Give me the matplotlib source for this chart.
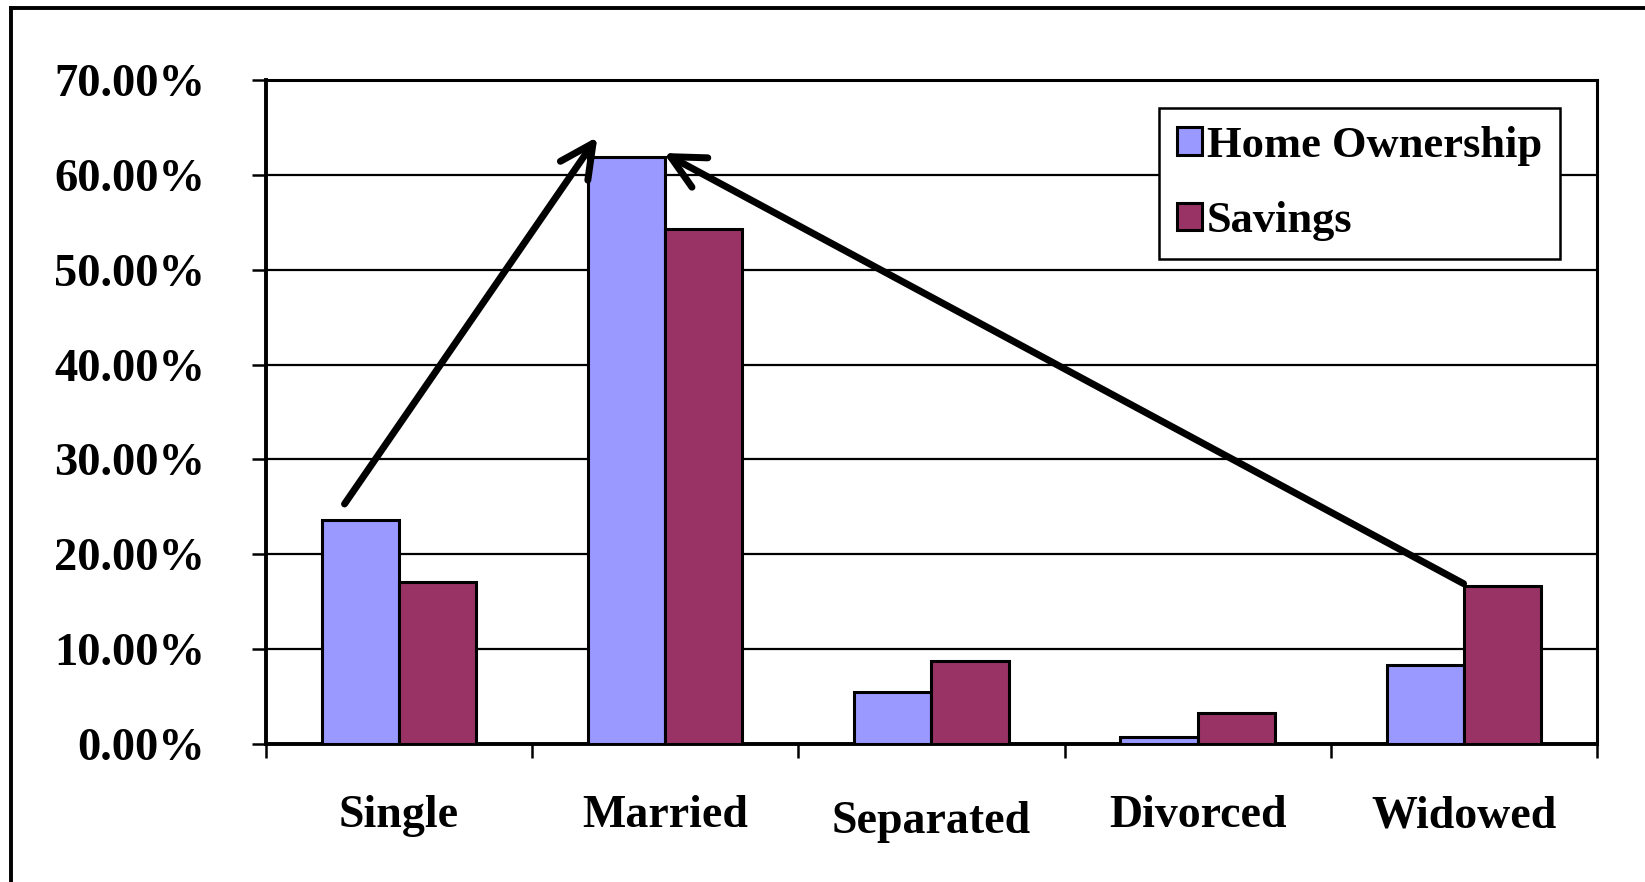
import numpy as np
import matplotlib
matplotlib.use("Agg")
import matplotlib.pyplot as plt
from matplotlib.lines import Line2D
from matplotlib.ticker import FuncFormatter, FixedLocator

# data
categories = ["Single", "Married", "Separated", "Divorced", "Widowed"]
home_ownership = [0.236, 0.619, 0.055, 0.007, 0.083]
savings = [0.171, 0.543, 0.087, 0.033, 0.167]
series_names = ["Home Ownership", "Savings"]
y_ticks = [0.0, 0.1, 0.2, 0.3, 0.4, 0.5, 0.6, 0.7]

HO_COLOR = "#9999FF"
SAV_COLOR = "#993366"

plt.rcParams["font.family"] = ["Liberation Serif", "DejaVu Serif"]
plt.rcParams["font.weight"] = "bold"

fig = plt.figure(figsize=(16.45, 8.82), dpi=100)
ax = fig.add_axes([0.1617, 0.1565, 0.8091, 0.7528])

x = np.arange(len(categories))
width = 0.29
ax.bar(x - width / 2, home_ownership, width, color=HO_COLOR,
       edgecolor="black", linewidth=2.2, label=series_names[0], zorder=3)
ax.bar(x + width / 2, savings, width, color=SAV_COLOR,
       edgecolor="black", linewidth=2.2, label=series_names[1], zorder=3)

ax.set_xlim(-0.5, len(categories) - 0.5)
ax.set_ylim(0, 0.7)
ax.set_yticks(y_ticks)
ax.yaxis.set_major_formatter(FuncFormatter(lambda v, _: f"{v * 100:.2f}%"))
ax.yaxis.grid(True, color="black", linewidth=1.6, zorder=0)
ax.set_axisbelow(True)

ax.set_xticks(x)
ax.set_xticklabels(categories)
ax.xaxis.set_minor_locator(FixedLocator(np.arange(-0.5, len(categories), 1.0)))
ax.tick_params(axis="x", which="major", length=0, pad=37, labelsize=33)
ax.tick_params(axis="x", which="minor", length=10, width=1.8, direction="out")
ax.tick_params(axis="y", which="major", length=10, width=1.8, direction="out",
               pad=34, labelsize=33.5)
for lbl in ax.get_xticklabels() + ax.get_yticklabels():
    lbl.set_fontweight("bold")
# "Separated" sits a little lower in the original
ax.get_xticklabels()[2].set_y(-0.008)

for side in ["left", "bottom"]:
    ax.spines[side].set_linewidth(2.8)
for side in ["top", "right"]:
    ax.spines[side].set_linewidth(2.2)

leg = ax.legend(loc="upper right", bbox_to_anchor=(0.972, 0.958),
                borderaxespad=0, fancybox=False, framealpha=1,
                edgecolor="black", handlelength=0.58,
                handleheight=0.58, handletextpad=0.1, labelspacing=0.8,
                borderpad=0.4, prop={"weight": "bold", "size": 32})
leg.get_frame().set_linewidth(1.8)
leg.set_zorder(5)

# arrows: Single -> Married peak, Widowed -> Married peak
arrow_kw = dict(arrowstyle="->,head_length=2.4,head_width=1.2", color="black",
                lw=5, shrinkA=0, shrinkB=0, mutation_scale=10,
                capstyle="round", joinstyle="round")
ax.annotate("", xy=(x[1] - width + 0.035, home_ownership[1] + 0.021),
            xytext=(x[0] - width / 2 - 0.06, home_ownership[0] + 0.017),
            arrowprops=arrow_kw, zorder=6)
ax.annotate("", xy=(x[1] - 0.006, home_ownership[1] + 0.004),
            xytext=(x[4] - 0.001, savings[4] + 0.002),
            arrowprops=arrow_kw, zorder=6)

# outer chart-area frame (left and top edges visible)
fx = 11 / 1645
fy = 1 - 8 / 882
fig.add_artist(Line2D([fx, fx], [0, fy], transform=fig.transFigure,
                      color="black", linewidth=2.8))
fig.add_artist(Line2D([fx, 1], [fy, fy], transform=fig.transFigure,
                      color="black", linewidth=2.8))

fig.savefig("out.png", dpi=100, facecolor="white")
